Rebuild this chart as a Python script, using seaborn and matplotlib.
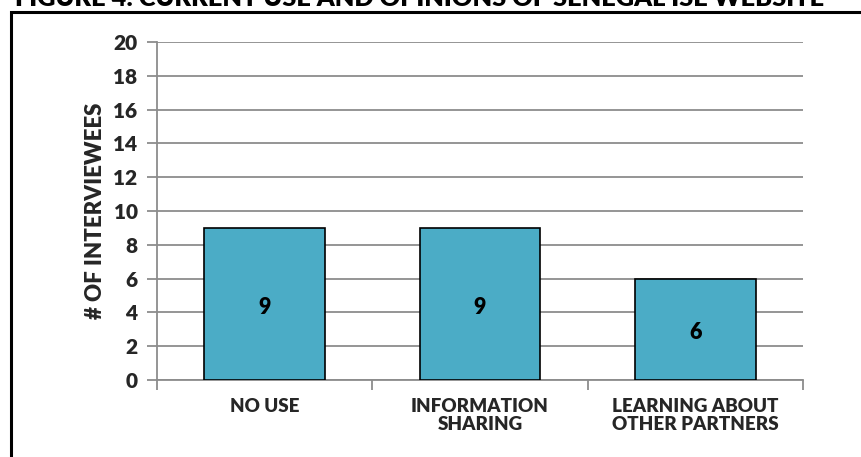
import matplotlib
matplotlib.use("Agg")
import matplotlib.pyplot as plt
import seaborn as sns
import pandas as pd
from matplotlib.patches import Rectangle

categories = ["NO USE", "INFORMATION\nSHARING", "LEARNING ABOUT\nOTHER PARTNERS"]
values = [9, 9, 6]
yticks = [0, 2, 4, 6, 8, 10, 12, 14, 16, 18, 20]
title = "FIGURE 4: CURRENT USE AND OPINIONS OF SENEGAL ISE WEBSITE"
ylabel = "# OF INTERVIEWEES"

sns.set_theme(style="white")
plt.rcParams['font.family'] = ['Lato', 'DejaVu Sans']
plt.rcParams['font.weight'] = 'bold'

df = pd.DataFrame({"category": categories, "value": values})

fig = plt.figure(figsize=(8.62, 4.57), dpi=100)
ax = fig.add_axes([157/862, 1-380/457, (803-157)/862, (380-42)/457])

sns.barplot(data=df, x="category", y="value", color="#4BACC6", saturation=1,
            edgecolor="black", linewidth=1.2, width=0.56, ax=ax, zorder=3)

W = 'heavy'
ax.set_ylim(0, 20)
ax.set_xlim(-0.5, 2.5)
ax.set_yticks(yticks)
ax.set_yticklabels([str(t) for t in yticks], fontsize=15, fontweight=W)
ax.yaxis.grid(True, color="#8c8c8c", linewidth=1.3, zorder=0)
ax.set_axisbelow(True)
ax.tick_params(axis='y', length=7, width=1.3, color="#8c8c8c", left=True, pad=7)
ax.set_xticks(range(len(categories)))
ax.set_xticklabels(categories, fontsize=13.5, fontweight=W, linespacing=1.1)
ax.tick_params(axis='x', which='major', length=0, pad=13)
ax.set_xticks([-0.5, 0.5, 1.5, 2.5], minor=True)
ax.tick_params(axis='x', which='minor', length=7, width=1.3, color="#8c8c8c", bottom=True)
for s in ["top", "right"]:
    ax.spines[s].set_visible(False)
for s in ["left", "bottom"]:
    ax.spines[s].set_color("#8c8c8c")
    ax.spines[s].set_linewidth(1.3)
ax.set_xlabel("")
ax.set_ylabel(ylabel, fontsize=16, fontweight=W, labelpad=5)

for i, v in enumerate(values):
    ax.text(i, v / 2 - 0.2, str(v), ha='center', va='center', fontsize=15.5, fontweight=W, color='black', zorder=4)

# outer frame and cut-off title
fig.patches.append(Rectangle((11/862, -0.05), 1.0, 1 - 12/457 + 0.05, transform=fig.transFigure,
                             fill=False, edgecolor='black', linewidth=2.2, clip_on=False))
fig.text(15/862, 1 - 6/457, title, ha='left', va='baseline', fontsize=18.3, fontweight=W, color='black')

fig.savefig("out.png", dpi=100)
